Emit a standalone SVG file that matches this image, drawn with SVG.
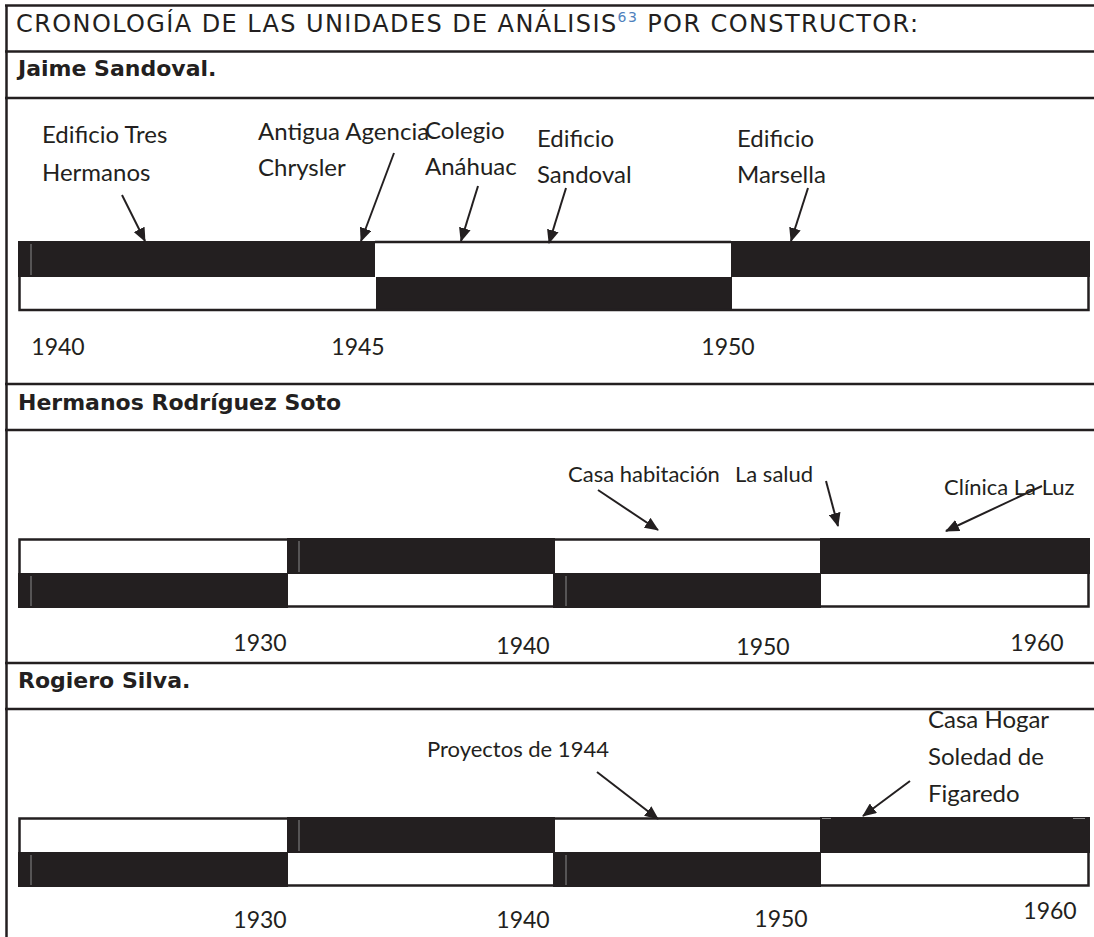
<svg xmlns="http://www.w3.org/2000/svg" width="1094" height="937" viewBox="0 0 1094 937">
<style>
.frame{stroke:#231f20;stroke-width:2.5;fill:none}
.lbl{font-family:Lato,"Open Sans",sans-serif;font-size:24px;fill:#231f20}
.lbs{font-family:Lato,"Open Sans",sans-serif;font-size:22px;fill:#231f20}
.yr{font-family:Lato,"Open Sans",sans-serif;font-size:23px;fill:#231f20;text-anchor:middle}
.hd{font-family:"DejaVu Sans",Verdana,sans-serif;font-weight:bold;font-size:22px;fill:#231f20}
.ttl{font-family:"DejaVu Sans",Verdana,sans-serif;font-size:24px;fill:#231f20}
.blk{fill:#231f20}
.bar{fill:none;stroke:#231f20;stroke-width:2.5}
.gl{stroke:#8a8a8a;stroke-width:1}
.arr{stroke:#231f20;stroke-width:2;fill:none;marker-end:url(#ah)}
</style>
<defs>
<marker id="ah" viewBox="0 0 14 12" refX="13" refY="6" markerWidth="14" markerHeight="12" orient="auto" markerUnits="userSpaceOnUse">
<path d="M0,0 L14,6 L0,12 z" fill="#231f20"/>
</marker>
</defs>
<rect width="1094" height="937" fill="#ffffff"/>
<g id="table">
<line class="frame" x1="6.5" y1="5" x2="6.5" y2="937"/>
<line class="frame" x1="5" y1="5.5" x2="1094" y2="5.5"/>
<line class="frame" x1="5" y1="51.5" x2="1094" y2="51.5"/>
<line class="frame" x1="5" y1="98" x2="1094" y2="98"/>
<line class="frame" x1="5" y1="384" x2="1094" y2="384"/>
<line class="frame" x1="5" y1="430" x2="1094" y2="430"/>
<line class="frame" x1="5" y1="663" x2="1094" y2="663"/>
<line class="frame" x1="5" y1="709" x2="1094" y2="709"/>
</g>
<g id="title">
<text class="ttl" x="16" y="32" textLength="902" lengthAdjust="spacing">CRONOLOGÍA DE LAS UNIDADES DE ANÁLISIS<tspan font-size="14" fill="#4f81bd" dy="-10">63</tspan><tspan dy="10"> POR CONSTRUCTOR:</tspan></text>
</g>
<g id="head-sandoval"><text class="hd" x="18" y="76">Jaime Sandoval.</text></g>
<g id="head-rodriguez"><text class="hd" x="18" y="410">Hermanos Rodríguez Soto</text></g>
<g id="head-silva"><text class="hd" x="18" y="688">Rogiero Silva.</text></g>

<g id="timeline-sandoval">
<rect class="blk" x="18" y="241" width="357" height="36"/>
<rect class="blk" x="731" y="241" width="359" height="36"/>
<rect class="blk" x="376" y="277" width="356" height="34"/>
<line class="gl" x1="31" y1="244" x2="31" y2="275"/>
<path class="bar" d="M375,242 H731 M19.5,277 V310 H1088.5 V277"/>
<text class="yr" x="58" y="355">1940</text>
<text class="yr" x="358" y="355">1945</text>
<text class="yr" x="728" y="355">1950</text>
</g>

<g id="timeline-rodriguez">
<rect class="blk" x="287" y="538" width="268" height="36"/>
<rect class="blk" x="820" y="538" width="270" height="36"/>
<rect class="blk" x="18" y="573" width="270" height="35"/>
<rect class="blk" x="553" y="573" width="268" height="35"/>
<line class="gl" x1="31" y1="576" x2="31" y2="606"/>
<line class="gl" x1="299" y1="541" x2="299" y2="572"/>
<line class="gl" x1="566" y1="576" x2="566" y2="606"/>
<path class="bar" d="M19.5,573 V539.5 H287 M555,539.5 H820 M1088.5,573 V606.5 H821 M288,606.5 H553"/>
<text class="yr" x="260" y="651">1930</text>
<text class="yr" x="523" y="654">1940</text>
<text class="yr" x="763" y="655">1950</text>
<text class="yr" x="1037" y="651">1960</text>
</g>

<g id="timeline-silva">
<rect class="blk" x="287" y="817" width="268" height="36"/>
<rect class="blk" x="820" y="817" width="270" height="36"/>
<rect class="blk" x="18" y="852" width="270" height="35"/>
<rect class="blk" x="553" y="852" width="268" height="35"/>
<line class="gl" x1="31" y1="855" x2="31" y2="885"/>
<line class="gl" x1="299" y1="820" x2="299" y2="851"/>
<line class="gl" x1="566" y1="855" x2="566" y2="885"/>
<line class="gl" x1="822" y1="818.5" x2="831" y2="818.5"/>
<line class="gl" x1="1073" y1="818.5" x2="1085" y2="818.5"/>
<path class="bar" d="M19.5,852 V818.5 H287 M555,818.5 H820 M1088.5,852 V885.5 H821 M288,885.5 H553"/>
<text class="yr" x="260" y="928">1930</text>
<text class="yr" x="523" y="928">1940</text>
<text class="yr" x="781" y="927">1950</text>
<text class="yr" x="1050" y="919">1960</text>
</g>

<g id="n-tres-hermanos"><text class="lbl" x="42" y="143">Edificio Tres</text><text class="lbl" x="42" y="181">Hermanos</text></g>
<g id="n-chrysler"><text class="lbl" x="258" y="140">Antigua Agencia</text><text class="lbl" x="258" y="176">Chrysler</text></g>
<g id="n-anahuac"><text class="lbl" x="425" y="139">Colegio</text><text class="lbl" x="425" y="175">Anáhuac</text></g>
<g id="n-sandoval"><text class="lbl" x="537" y="147">Edificio</text><text class="lbl" x="537" y="183">Sandoval</text></g>
<g id="n-marsella"><text class="lbl" x="737" y="147">Edificio</text><text class="lbl" x="737" y="183">Marsella</text></g>
<g id="n-casa-habitacion"><text class="lbs" x="568" y="482">Casa habitación</text></g>
<g id="n-la-salud"><text class="lbs" x="735" y="482">La salud</text></g>
<g id="n-clinica"><text class="lbs" x="944" y="495">Clínica La Luz</text></g>
<g id="n-proyectos"><text class="lbs" x="427" y="757">Proyectos de 1944</text></g>
<g id="n-casa-hogar"><text class="lbl" x="928" y="728">Casa Hogar</text><text class="lbl" x="928" y="765">Soledad de</text><text class="lbl" x="928" y="802">Figaredo</text></g>

<g id="connectors">
<line class="arr" x1="122" y1="195" x2="145" y2="241"/>
<line class="arr" x1="394" y1="153" x2="361" y2="241"/>
<line class="arr" x1="478" y1="186" x2="461" y2="241"/>
<line class="arr" x1="566" y1="188" x2="549" y2="243"/>
<line class="arr" x1="808" y1="188" x2="791" y2="241"/>
<line class="arr" x1="598" y1="490" x2="658" y2="530"/>
<line class="arr" x1="826" y1="481" x2="838" y2="526"/>
<line class="arr" x1="1042" y1="486" x2="946" y2="531"/>
<line class="arr" x1="597" y1="772" x2="658" y2="819"/>
<line class="arr" x1="910" y1="781" x2="863" y2="816"/>
</g>
</svg>
